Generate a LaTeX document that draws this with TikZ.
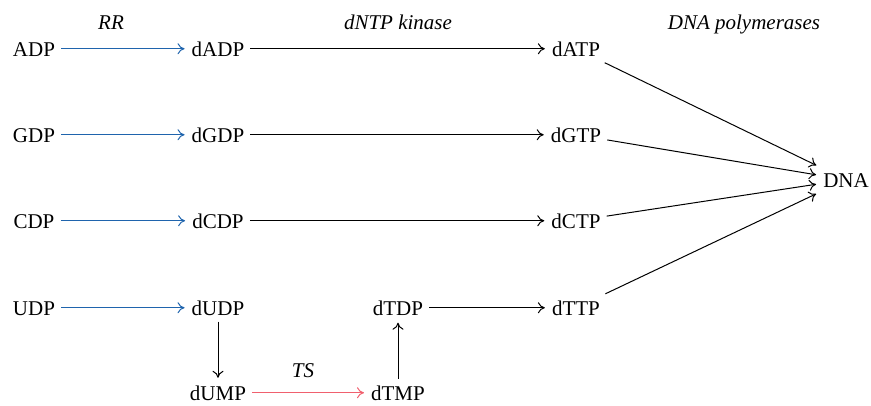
\documentclass[tikz,border=0pt]{standalone}
\usepackage{fontspec}
\usetikzlibrary{arrows.meta}
\setmainfont{Liberation Serif}
\definecolor{rrblue}{HTML}{1F64AD}
\definecolor{tsred}{HTML}{F0606E}
\begin{document}
\begin{tikzpicture}[x=1pt,y=-1pt,
  mol/.style={anchor=base,inner xsep=6pt,inner ysep=6pt,text height=15pt,text depth=0.5pt,font=\fontsize{21}{24}\selectfont},
  enz/.style={anchor=base,inner sep=0pt,font=\fontsize{21}{24}\selectfont\itshape},
  conn/.style={-{To[length=7pt,width=11pt,line width=1pt]},line width=1pt,shorten >=1pt},
  rr/.style={conn,draw=rrblue},
  ts/.style={conn,draw=tsred}]
\useasboundingbox (0,0) rectangle (871,405);
% labels
\node[enz] (lrr) at (111,29) {RR};
\node[enz] (lkin) at (398,29) {dNTP kinase};
\node[enz] (lpol) at (744,29) {DNA polymerases};
\node[enz] (lts) at (303,377) {TS};
% row 1
\node[mol] (adp) at (34,56) {ADP};
\node[mol] (dadp) at (218,56) {dADP};
\node[mol] (datp) at (576,56) {dATP};
% row 2
\node[mol] (gdp) at (34,142) {GDP};
\node[mol] (dgdp) at (218,142) {dGDP};
\node[mol] (dgtp) at (576,142) {dGTP};
% row 3
\node[mol] (cdp) at (34,228) {CDP};
\node[mol] (dcdp) at (218,228) {dCDP};
\node[mol] (dctp) at (576,228) {dCTP};
% row 4
\node[mol] (udp) at (34,315) {UDP};
\node[mol] (dudp) at (218,315) {dUDP};
\node[mol] (dtdp) at (398,315) {dTDP};
\node[mol] (dttp) at (576,315) {dTTP};
% row 5
\node[mol] (dump) at (218,400) {dUMP};
\node[mol] (dtmp) at (398,400) {dTMP};
% DNA
\node[mol] (dna) at (846,187) {DNA};
% RR arrows
\draw[rr] (adp) -- (dadp);
\draw[rr] (gdp) -- (dgdp);
\draw[rr] (cdp) -- (dcdp);
\draw[rr] (udp) -- (dudp);
% kinase arrows
\draw[conn] (dadp) -- (datp);
\draw[conn] (dgdp) -- (dgtp);
\draw[conn] (dcdp) -- (dctp);
\draw[conn] (dtdp) -- (dttp);
% thymidine branch
\draw[conn] (dudp) -- (dump);
\draw[ts] (dump) -- (dtmp);
\draw[conn] (dtmp) -- (dtdp);
% polymerase arrows
\draw[conn] (datp) -- (dna);
\draw[conn] (dgtp) -- (dna);
\draw[conn] (dctp) -- (dna);
\draw[conn] (dttp) -- (dna);
\end{tikzpicture}
\end{document}
